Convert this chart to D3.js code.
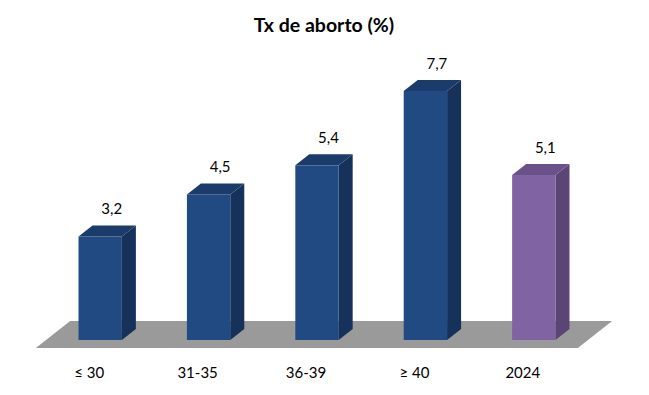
<!DOCTYPE html>
<html>
<head>
<meta charset="utf-8">
<script src="https://cdn.jsdelivr.net/npm/d3@7/dist/d3.min.js"></script>
<style>
html,body{margin:0;padding:0;background:#fff;}
svg{display:block;font-family:Lato,"Open Sans",sans-serif;}
</style>
</head>
<body>
<svg id="chart" width="649" height="395"></svg>
<script>
const categories = ["≤ 30", "31-35", "36-39", "≥ 40", "2024"];
const values = [3.2, 4.5, 5.4, 7.7, 5.1];
const valueLabels = ["3,2", "4,5", "5,4", "7,7", "5,1"];
const title = "Tx de aborto (%)";

const palette = {
  blue: {front: "#214a83", top: "#1b3c6b", side: "#17325a"},
  purple: {front: "#8063a2", top: "#6a518a", side: "#5a4575"}
};
const barColors = ["blue", "blue", "blue", "blue", "purple"];

const svg = d3.select("#chart");

const x = d3.scaleBand().domain(categories).range([46, 588]).paddingInner(0.6).paddingOuter(0.3);
const y = d3.scaleLinear().domain([0, 8]).range([340, 340 - 8 * 32.35]);

const dx = 14, dy = 11;       // bar depth
const k = dx / dy;            // x shift per px of depth
const floorFront = 8, floorBack = 19;

// title
svg.append("text")
  .attr("x", 324).attr("y", 32)
  .attr("text-anchor", "middle")
  .attr("font-size", 19.5).attr("font-weight", "bold")
  .attr("fill", "#000")
  .text(title);

// floor
const y0 = y(0);
const r = x.range();
const floorPts = [
  [r[0] - floorFront * k, y0 + floorFront],
  [r[1] - floorFront * k, y0 + floorFront],
  [r[1] + floorBack * k, y0 - floorBack],
  [r[0] + floorBack * k, y0 - floorBack]
];
svg.append("polygon")
  .attr("points", floorPts.map(p => p.join(",")).join(" "))
  .attr("fill", "#9a9a9a");

// bars
const data = categories.map((c, i) => ({c, v: values[i], label: valueLabels[i], col: palette[barColors[i]]}));
const g = svg.append("g");
data.forEach(d => {
  const x0 = x(d.c), x1 = x0 + x.bandwidth();
  const yt = y(d.v), yb = y(0);
  g.append("polygon")
    .attr("points", [[x1, yt], [x1 + dx, yt - dy], [x1 + dx, yb - dy], [x1, yb]].map(p => p.join(",")).join(" "))
    .attr("fill", d.col.side);
  g.append("polygon")
    .attr("points", [[x0, yt], [x0 + dx, yt - dy], [x1 + dx, yt - dy], [x1, yt]].map(p => p.join(",")).join(" "))
    .attr("fill", d.col.top);
  g.append("rect")
    .attr("x", x0).attr("y", yt)
    .attr("width", x.bandwidth()).attr("height", yb - yt)
    .attr("fill", d.col.front);
  g.append("text")
    .attr("x", x0 + x.bandwidth() / 2 + 11.5)
    .attr("y", yt - 22)
    .attr("text-anchor", "middle")
    .attr("font-size", 15)
    .attr("fill", "#000")
    .text(d.label);
});

// category labels
svg.append("g").selectAll("text")
  .data(categories)
  .join("text")
  .attr("x", d => x(d) + x.bandwidth() / 2 - 11)
  .attr("y", 378)
  .attr("text-anchor", "middle")
  .attr("font-size", 15)
  .attr("fill", "#000")
  .text(d => d);
</script>
</body>
</html>
